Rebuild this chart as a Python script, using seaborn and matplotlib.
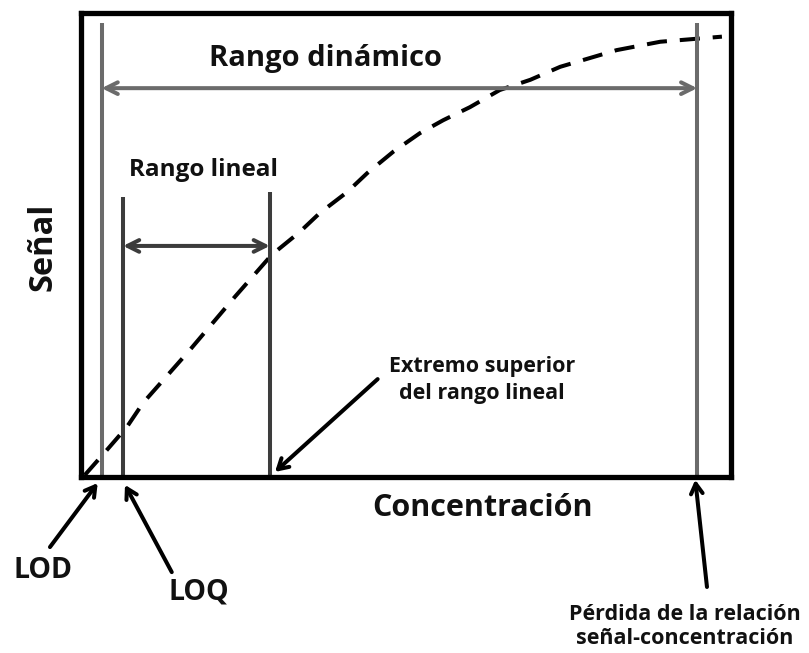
import numpy as np
import pandas as pd
import matplotlib
matplotlib.use("Agg")
import matplotlib.pyplot as plt
import seaborn as sns

# Curva señal-concentración (unidades arbitrarias, 0-100)
conc = [0.5, 3.9, 7.0, 9.5, 16.7, 23.6, 29.3, 33.6, 36.7, 40.9, 44.0, 48.0,
        52.1, 55.7, 59.8, 64.4, 69.1, 73.7, 82.4, 89.1, 98.6]
senal = [0.5, 5.9, 10.9, 16.1, 27.5, 38.9, 48.0, 52.9, 57.0, 61.5, 65.6, 70.2,
         74.2, 77.0, 79.8, 83.5, 85.7, 88.5, 92.1, 93.9, 95.0]

# Límites (posición en concentración) y altura de las líneas verticales
lod, loq, lim_lineal, lim_perdida = 3.1, 6.4, 29.0, 94.8
altura_lod, altura_loq, altura_lineal, altura_perdida = 98.0, 60.5, 61.5, 98.0
y_rango_dinamico, y_rango_lineal = 83.9, 49.9

df = pd.DataFrame({"Concentración": conc, "Señal": senal})

sns.set_theme(style="white")
plt.rcParams["font.family"] = ["Open Sans", "DejaVu Sans"]

fig = plt.figure(figsize=(8.09, 6.53), dpi=100)
ax = fig.add_axes([0.1007, 0.2688, 0.8029, 0.7106])

gris = "#6b6b6b"
oscuro = "#3c3c3c"
txt = "#111111"

# Curva discontinua
sns.lineplot(data=df, x="Concentración", y="Señal", ax=ax, color="black",
             lw=2.9, dashes=False, linestyle=(0, (5, 3.2)))

# Líneas verticales
ax.vlines([lod, lim_perdida], 0, [altura_lod, altura_perdida], color=gris, lw=2.9)
ax.vlines([loq, lim_lineal], 0, [altura_loq, altura_lineal], color=oscuro, lw=2.9)

# Flechas de rango
ax.annotate("", xy=(lim_perdida, y_rango_dinamico), xytext=(lod, y_rango_dinamico),
            arrowprops=dict(arrowstyle="<->, head_length=0.7, head_width=0.35",
                            color=gris, lw=2.9, shrinkA=0, shrinkB=0))
ax.annotate("", xy=(lim_lineal, y_rango_lineal), xytext=(loq, y_rango_lineal),
            arrowprops=dict(arrowstyle="<->, head_length=0.7, head_width=0.35",
                            color=oscuro, lw=2.9, shrinkA=0, shrinkB=0))

ax.text(37.5, 90.2, "Rango dinámico", ha="center", va="center",
        fontsize=21, fontweight="bold", color=txt)
ax.text(18.8, 66.2, "Rango lineal", ha="center", va="center",
        fontsize=17.5, fontweight="bold", color=txt)

# Etiquetas de ejes
ax.text(-5.9, 49.7, "Señal", ha="center", va="center", rotation=90,
        fontsize=23.5, fontweight="bold", color=txt)
ax.text(61.8, -6.6, "Concentración", ha="center", va="center",
        fontsize=22, fontweight="bold", color=txt)

# Anotaciones con flechas negras
flecha = dict(arrowstyle="->, head_length=0.6, head_width=0.35", color="black",
              lw=2.9, shrinkA=0, shrinkB=0)
ax.annotate("", xy=(29.8, 1.2), xytext=(45.6, 21.2), arrowprops=flecha,
            annotation_clip=False)
ax.text(61.7, 21.0, "Extremo superior\ndel rango lineal", ha="center", va="center",
        fontsize=15.5, fontweight="bold", color=txt, linespacing=1.4)

ax.annotate("", xy=(2.5, -1.2), xytext=(-4.85, -15.0), arrowprops=flecha,
            annotation_clip=False)
ax.text(-5.9, -20.0, "LOD", ha="center", va="center",
        fontsize=20.5, fontweight="bold", color=txt)

ax.annotate("", xy=(6.7, -1.6), xytext=(13.9, -20.4), arrowprops=flecha,
            annotation_clip=False)
ax.text(18.1, -24.7, "LOQ", ha="center", va="center",
        fontsize=20.5, fontweight="bold", color=txt)

ax.annotate("", xy=(94.5, -0.5), xytext=(96.3, -23.6), arrowprops=flecha,
            annotation_clip=False)
ax.text(92.9, -32.2, "Pérdida de la relación\nseñal-concentración", ha="center",
        va="center", fontsize=15.5, fontweight="bold", color=txt,
        linespacing=1.2)

ax.set_xlim(0, 100)
ax.set_ylim(0, 100)
ax.set_xticks([])
ax.set_yticks([])
ax.set_xlabel("")
ax.set_ylabel("")
for s in ax.spines.values():
    s.set_visible(True)
    s.set_color("black")
    s.set_linewidth(3.8)

fig.savefig("out.png", dpi=100, facecolor="white")
